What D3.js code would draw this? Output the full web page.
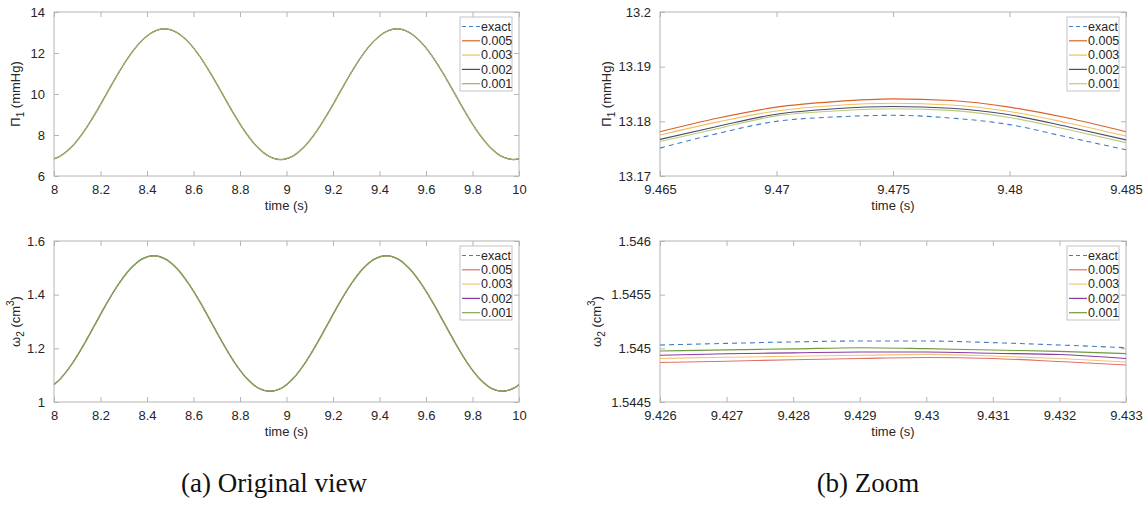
<!DOCTYPE html>
<html>
<head>
<meta charset="utf-8">
<script src="https://cdn.jsdelivr.net/npm/d3@7"></script>
<style>
  html, body { margin: 0; padding: 0; background: #fff; }
  svg { display: block; }
  text { font-family: "Liberation Sans", Arial, Helvetica, sans-serif; fill: #262626; }
</style>
</head>
<body>
<svg id="chart" width="1146" height="507"></svg>
<script>
// ---------------- DATA ----------------
const seriesNames = ["exact", "0.005", "0.003", "0.002", "0.001"];

// (a) top : Pi_1 (mmHg), all step sizes coincide at this scale
const timePi = [8.000, 8.025, 8.075, 8.125, 8.175, 8.225, 8.275, 8.325, 8.375, 8.425,
  8.475, 8.525, 8.575, 8.625, 8.675, 8.725, 8.775, 8.825, 8.875, 8.925,
  8.975, 9.025, 9.075, 9.125, 9.175, 9.225, 9.275, 9.325, 9.375, 9.425,
  9.475, 9.525, 9.575, 9.625, 9.675, 9.725, 9.775, 9.825, 9.875, 9.925,
  9.975, 10.000];
const piValues = [6.84, 6.96, 7.41, 8.11, 9.00, 9.99, 10.98, 11.87, 12.57, 13.02,
  13.18, 13.02, 12.57, 11.87, 10.98, 9.99, 9.00, 8.11, 7.41, 6.96,
  6.80, 6.96, 7.41, 8.11, 9.00, 9.99, 10.98, 11.87, 12.57, 13.02,
  13.18, 13.02, 12.57, 11.87, 10.98, 9.99, 9.00, 8.11, 7.41, 6.96,
  6.80, 6.84];

// (a) bottom : omega_2 (cm^3)
const timeOmega = [8.000, 8.029, 8.079, 8.129, 8.179, 8.229, 8.279, 8.329, 8.379, 8.429,
  8.479, 8.529, 8.579, 8.629, 8.679, 8.729, 8.779, 8.829, 8.879, 8.929,
  8.979, 9.029, 9.079, 9.129, 9.179, 9.229, 9.279, 9.329, 9.379, 9.429,
  9.479, 9.529, 9.579, 9.629, 9.679, 9.729, 9.779, 9.829, 9.879, 9.929,
  9.979, 10.000];
const omegaValues = [1.065, 1.088, 1.144, 1.215, 1.293, 1.371, 1.441, 1.497, 1.533, 1.545,
  1.533, 1.497, 1.441, 1.371, 1.293, 1.215, 1.144, 1.088, 1.052, 1.040,
  1.052, 1.088, 1.144, 1.215, 1.293, 1.371, 1.441, 1.497, 1.533, 1.545,
  1.533, 1.497, 1.441, 1.371, 1.293, 1.215, 1.144, 1.088, 1.052, 1.040,
  1.052, 1.065];

// (b) top : zoom of Pi_1
const timePiZoom = [9.465, 9.4675, 9.470, 9.4725, 9.475, 9.4775, 9.480, 9.4825, 9.485];
const piZoomExact = [13.1751, 13.1778, 13.1800, 13.1808, 13.1811, 13.1806, 13.1794, 13.1771, 13.1748];
const piZoom005   = [13.1781, 13.1806, 13.1826, 13.1836, 13.1841, 13.1838, 13.1826, 13.1806, 13.1781];
const piZoom003   = [13.1775, 13.1799, 13.1819, 13.1829, 13.1833, 13.1830, 13.1818, 13.1797, 13.1773];
const piZoom002   = [13.1767, 13.1791, 13.1813, 13.1823, 13.1827, 13.1824, 13.1812, 13.1790, 13.1766];
const piZoom001   = [13.1763, 13.1787, 13.1810, 13.1819, 13.1823, 13.1820, 13.1807, 13.1785, 13.1761];

// (b) bottom : zoom of omega_2
const timeOmegaZoom = [9.426, 9.427, 9.428, 9.429, 9.430, 9.431, 9.432, 9.433];
const omegaZoomExact = [1.545031, 1.545046, 1.545060, 1.545068, 1.545068, 1.545053, 1.545031, 1.545006];
const omegaZoom005   = [1.544868, 1.544880, 1.544894, 1.544905, 1.544914, 1.544905, 1.544877, 1.544845];
const omegaZoom003   = [1.544905, 1.544917, 1.544926, 1.544935, 1.544944, 1.544929, 1.544905, 1.544873];
const omegaZoom002   = [1.544935, 1.544949, 1.544958, 1.544966, 1.544966, 1.544954, 1.544942, 1.544905];
const omegaZoom001   = [1.544975, 1.544986, 1.544995, 1.545006, 1.544997, 1.544984, 1.544972, 1.544951];

// tick values / labels
const ticksXa = [8, 8.2, 8.4, 8.6, 8.8, 9, 9.2, 9.4, 9.6, 9.8, 10];
const ticksYPi = [6, 8, 10, 12, 14];
const ticksYOmega = [1, 1.2, 1.4, 1.6];
const ticksXPiZoom = [9.465, 9.47, 9.475, 9.48, 9.485];
const ticksYPiZoom = [13.17, 13.18, 13.19, 13.2];
const ticksXOmegaZoom = [9.426, 9.427, 9.428, 9.429, 9.43, 9.431, 9.432, 9.433];
const ticksYOmegaZoom = [1.5445, 1.545, 1.5455, 1.546];
const captions = ["(a) Original view", "(b) Zoom"];

// ---------------- STYLE ----------------
const colorsTop = { "exact": "#3f7fbf", "0.005": "#d9622b", "0.003": "#f0c060", "0.002": "#4a4a6e", "0.001": "#b9cc7a" };
const colorsBot = { "exact": "#3f7fbf", "0.005": "#e0706a", "0.003": "#f2c47a", "0.002": "#8a3ba0", "0.001": "#6f9a3c" };

const svg = d3.select("#chart");

function panel(o) {
  const g = svg.append("g");
  const x = d3.scaleLinear().domain(o.xDomain).range([o.left, o.right]);
  const y = d3.scaleLinear().domain(o.yDomain).range([o.bottom, o.top]);

  g.append("rect").attr("x", o.left).attr("y", o.top)
    .attr("width", o.right - o.left).attr("height", o.bottom - o.top)
    .attr("fill", "#fff").attr("stroke", "#b4b4b4").attr("stroke-width", 1);

  const tl = 5;
  const axStyle = sel => {
    sel.select(".domain").remove();
    sel.selectAll(".tick line").attr("stroke", "#b4b4b4");
    sel.selectAll(".tick text").attr("fill", "#303030")
      .style("font-size", "13px").style("font-family", '"Liberation Sans", Arial, sans-serif');
  };
  g.append("g").attr("transform", `translate(0,${o.bottom})`)
    .call(d3.axisBottom(x).tickValues(o.xTicks).tickSizeInner(-tl).tickSizeOuter(0).tickPadding(9).tickFormat(d3.format("~g")))
    .call(axStyle);
  g.append("g").attr("transform", `translate(0,${o.top})`)
    .call(d3.axisTop(x).tickValues(o.xTicks).tickSizeInner(-tl).tickSizeOuter(0).tickFormat(""))
    .call(axStyle);
  g.append("g").attr("transform", `translate(${o.left},0)`)
    .call(d3.axisLeft(y).tickValues(o.yTicks).tickSizeInner(-tl).tickSizeOuter(0).tickPadding(9).tickFormat(d3.format("~g")))
    .call(axStyle);
  g.append("g").attr("transform", `translate(${o.right},0)`)
    .call(d3.axisRight(y).tickValues(o.yTicks).tickSizeInner(-tl).tickSizeOuter(0).tickFormat(""))
    .call(axStyle);

  const clipId = "clip" + Math.round(o.left) + "_" + Math.round(o.top);
  svg.append("clipPath").attr("id", clipId).append("rect")
    .attr("x", o.left).attr("y", o.top).attr("width", o.right - o.left).attr("height", o.bottom - o.top);
  const lg = g.append("g").attr("clip-path", `url(#${clipId})`);
  const line = d3.line().x(d => x(d[0])).y(d => y(d[1])).curve(o.curve);
  seriesNames.forEach((name, i) => {
    const vals = o.series[name];
    const pts = o.time.map((t, j) => [t, vals[j]]);
    const last = i === seriesNames.length - 1;
    lg.append("path").datum(pts).attr("d", line)
      .attr("fill", "none").attr("stroke", o.colors[name])
      .attr("stroke-width", last && o.topLw ? o.topLw : o.lw)
      .attr("stroke-dasharray", name === "exact" ? "5,4" : null);
  });

  g.append("text").attr("x", (o.left + o.right) / 2).attr("y", o.bottom + 34)
    .attr("text-anchor", "middle").style("font-size", "13px").text("time (s)");

  const yl = g.append("text")
    .attr("transform", `translate(${o.ylabelX},${(o.top + o.bottom) / 2}) rotate(-90)`)
    .attr("text-anchor", "middle").style("font-size", "13px");
  o.ylabel(yl);

  const lw = 52, lh = 74;
  const lx = o.right - 7 - lw, ly = o.top + 5;
  const leg = g.append("g");
  leg.append("rect").attr("x", lx).attr("y", ly).attr("width", lw).attr("height", lh)
    .attr("fill", "#fff").attr("stroke", "#c4c4c4");
  seriesNames.forEach((name, i) => {
    const yy = ly + 9.5 + i * 14.3;
    leg.append("line").attr("x1", lx + 2).attr("x2", lx + 20).attr("y1", yy).attr("y2", yy)
      .attr("stroke", o.colors[name]).attr("stroke-width", 1.2)
      .attr("stroke-dasharray", name === "exact" ? "4,3" : null);
    leg.append("text").attr("x", lx + 21).attr("y", yy + 4.3)
      .style("font-size", "12.5px").text(name);
  });
}

function piLabel(t) {
  t.append("tspan").text("\u03A0");
  t.append("tspan").attr("dy", 4).style("font-size", "10px").text("1");
  t.append("tspan").attr("dy", -4).text(" (mmHg)");
}
function omegaLabel(t) {
  t.append("tspan").text("\u03C9");
  t.append("tspan").attr("dy", 4).style("font-size", "10px").text("2");
  t.append("tspan").attr("dy", -4).text(" (cm");
  t.append("tspan").attr("dy", -6).style("font-size", "10px").text("3");
  t.append("tspan").attr("dy", 6).text(")");
}

const sameAll = v => ({ "exact": v, "0.005": v, "0.003": v, "0.002": v, "0.001": v });

panel({ left: 54, right: 519, top: 12, bottom: 176, xDomain: [8, 10], yDomain: [6, 14],
  xTicks: ticksXa, yTicks: ticksYPi, time: timePi, series: sameAll(piValues),
  colors: { ...colorsTop, "0.001": "#9aae6e" }, lw: 1, topLw: 1.5, curve: d3.curveCatmullRom, ylabelX: 20, ylabel: piLabel });

panel({ left: 54, right: 519, top: 241, bottom: 402, xDomain: [8, 10], yDomain: [1, 1.6],
  xTicks: ticksXa, yTicks: ticksYOmega, time: timeOmega, series: sameAll(omegaValues),
  colors: { ...colorsBot, "0.001": "#86a35a" }, lw: 1, topLw: 1.5, curve: d3.curveCatmullRom, ylabelX: 20, ylabel: omegaLabel });

panel({ left: 660, right: 1126, top: 12, bottom: 176, xDomain: [9.465, 9.485], yDomain: [13.17, 13.2],
  xTicks: ticksXPiZoom, yTicks: ticksYPiZoom, time: timePiZoom,
  series: { "exact": piZoomExact, "0.005": piZoom005, "0.003": piZoom003, "0.002": piZoom002, "0.001": piZoom001 },
  colors: colorsTop, lw: 1.1, curve: d3.curveMonotoneX, ylabelX: 611, ylabel: piLabel });

panel({ left: 660, right: 1126, top: 241, bottom: 402, xDomain: [9.426, 9.433], yDomain: [1.5445, 1.546],
  xTicks: ticksXOmegaZoom, yTicks: ticksYOmegaZoom, time: timeOmegaZoom,
  series: { "exact": omegaZoomExact, "0.005": omegaZoom005, "0.003": omegaZoom003, "0.002": omegaZoom002, "0.001": omegaZoom001 },
  colors: colorsBot, lw: 1.1, curve: d3.curveMonotoneX, ylabelX: 601, ylabel: omegaLabel });

[[274, captions[0]], [868, captions[1]]].forEach(([cx, txt]) => {
  svg.append("text").attr("x", cx).attr("y", 492).attr("text-anchor", "middle")
    .style("font-family", '"Liberation Serif", "DejaVu Serif", serif')
    .style("font-size", "27px").style("fill", "#111").text(txt);
});
</script>
</body>
</html>
